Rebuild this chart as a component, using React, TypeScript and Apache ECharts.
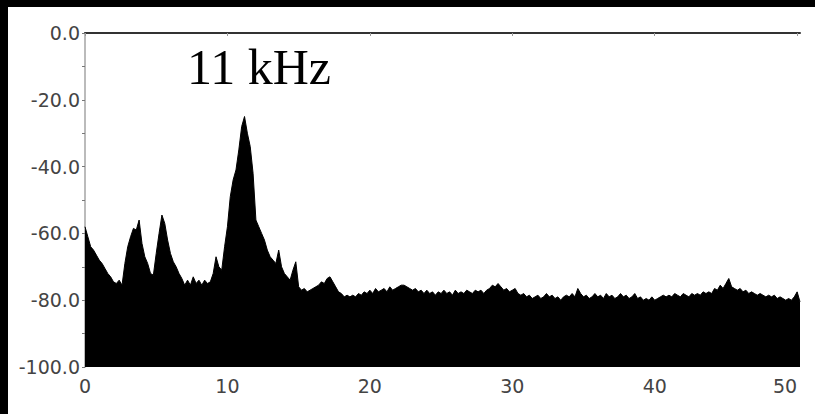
import React, { useEffect, useRef } from "react";
import * as echarts from "echarts";

// Spectrum level in dB, one reading every 0.2 kHz starting at 0 kHz
const STEP_KHZ = 0.2;
const spectrumDb: number[] = [
  -58, -61, -64, -65, -66.5, -68, -69, -70.5, -72, -73,
  -74.5, -75, -74, -75.5, -69, -64, -61, -58.5, -59, -56,
  -63, -67, -69, -72, -72.5, -66, -60, -54.5, -57, -62,
  -66, -68.5, -70, -72, -73.5, -75.5, -74, -75.5, -73, -75,
  -74, -75.5, -74, -75, -74.5, -72, -67, -70, -71, -64,
  -58, -49, -44, -41, -35, -28, -25, -30, -34, -42,
  -56, -58, -60, -62, -65, -67, -68, -69, -65, -70,
  -72, -73, -74, -71, -68.5, -76, -77, -76.5, -77.5, -77,
  -76.5, -76, -75.5, -74.5, -75, -73.5, -73, -74.5, -76, -77.5,
  -78, -79, -78.5, -79, -78.5, -79, -78, -78.5, -77.5, -78,
  -77, -78, -76.5, -77.5, -77, -76.5, -77.5, -76, -77, -76.5,
  -76, -75.5, -75.5, -76, -76.5, -77, -76.5, -77.5, -77, -78,
  -77, -78, -77.5, -78.5, -77.5, -78, -77, -78, -77.5, -78.5,
  -77, -78, -77.5, -78, -77, -77.5, -78, -77, -77.5, -77,
  -78, -77, -76.5, -75.5, -76, -75, -76, -77, -76.5, -77.5,
  -77, -76.5, -78, -78.5, -78, -79, -78.5, -79.5, -79, -78.5,
  -79.5, -79, -78, -79, -78.5, -79.5, -79, -80, -79, -78.5,
  -79, -78, -79, -76.5, -78, -79, -78.5, -79.5, -79, -78,
  -79, -78.5, -79.5, -78, -79, -78.5, -79.5, -79, -78, -79,
  -78.5, -79.5, -79, -78, -79.5, -79, -80, -79.5, -80, -79,
  -80, -79.5, -79, -78.5, -79, -78.5, -79, -78, -78.5, -79,
  -78, -78.5, -79, -78, -78.5, -78, -78.5, -77.5, -78, -77.5,
  -78, -76.5, -77, -75.5, -76.5, -75, -73.5, -76, -76.5, -77,
  -76.5, -77.5, -77, -78, -77.5, -78, -78.5, -78, -78.5, -79,
  -78.5, -79, -78.5, -79.5, -79, -79.5, -80, -79.5, -80, -79,
  -77.5, -80.5,
];

const xTickValues = [0, 10, 20, 30, 40, 50];
const yTickValues = [0, -20, -40, -60, -80, -100];
const titleText = "11 kHz";

export default function App() {
  const ref = useRef<HTMLDivElement>(null);

  useEffect(() => {
    if (!ref.current) return;
    const chart = echarts.init(ref.current, null, { renderer: "svg" });
    const points = spectrumDb.map((v, i) => [+(i * STEP_KHZ).toFixed(2), v]);
    const xMax = points[points.length - 1][0];

    chart.setOption({
      animation: false,
      backgroundColor: "#ffffff",
      grid: { left: 85, top: 33, right: 15, bottom: 47, containLabel: false },
      xAxis: {
        type: "value",
        min: 0,
        max: xMax,
        axisLine: { show: true, lineStyle: { color: "#333", width: 2 } },
        axisTick: {
          show: true,
          length: 3,
          customValues: xTickValues,
          lineStyle: { color: "#999", width: 1 },
        },
        axisLabel: {
          customValues: xTickValues,
          margin: 9,
          color: "#444",
          fontFamily: "DejaVu Sans",
          fontSize: 19,
          alignMaxLabel: "right",
          formatter: (v: number) => String(v),
        },
        splitLine: { show: false },
      },
      yAxis: {
        type: "value",
        min: -100,
        max: 0,
        interval: 20,
        axisLine: { show: true, lineStyle: { color: "#bbb", width: 2 } },
        axisTick: {
          show: true,
          length: 3,
          customValues: yTickValues,
          lineStyle: { color: "#777", width: 1 },
        },
        minorTick: {
          show: true,
          splitNumber: 2,
          length: 3,
          lineStyle: { color: "#777", width: 1 },
        },
        axisLabel: {
          margin: 5,
          color: "#444",
          fontFamily: "DejaVu Sans",
          fontSize: 19,
          formatter: (v: number) => v.toFixed(1),
        },
        splitLine: { show: false },
        minorSplitLine: { show: false },
      },
      series: [
        {
          type: "line",
          data: points,
          symbol: "none",
          z: 1,
          lineStyle: { color: "#000", width: 1 },
          areaStyle: { color: "#000", opacity: 1, origin: "start" },
        },
      ],
      graphic: [
        { type: "rect", z: 100, shape: { x: 0, y: 0, width: 815, height: 7 }, style: { fill: "#000" } },
        { type: "rect", z: 100, shape: { x: 0, y: 0, width: 8, height: 414 }, style: { fill: "#000" } },
        {
          type: "text",
          z: 100,
          x: 187,
          y: 67,
          style: {
            text: titleText,
            font: '50px "Liberation Serif"',
            fill: "#000",
            textAlign: "left",
            textVerticalAlign: "middle",
          },
        },
      ],
    });

    return () => chart.dispose();
  }, []);

  return (
    <div
      ref={ref}
      style={{ position: "fixed", left: 0, top: 0, width: 815, height: 414 }}
    />
  );
}
